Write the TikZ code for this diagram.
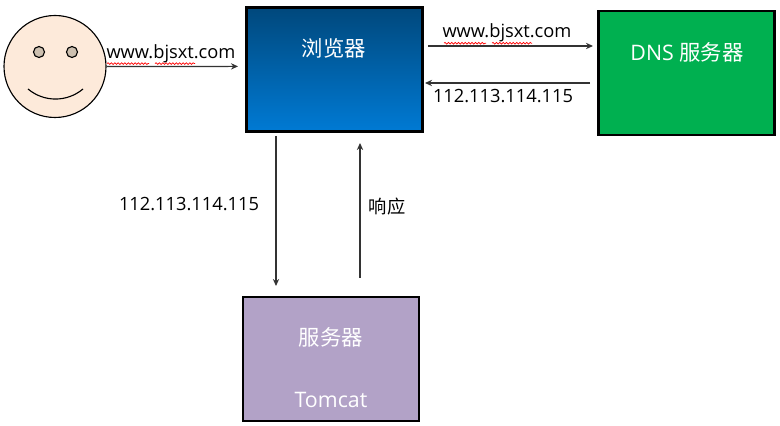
\documentclass[tikz,border=0pt]{standalone}
\usepackage{fontspec}
\setmainfont{Open Sans}
\newfontfamily\cjk{Noto Sans CJK SC}
\definecolor{skin_fill}{RGB}{253, 234, 218}
\definecolor{eye_fill}{RGB}{205, 192, 176}
\definecolor{browser_top}{RGB}{0, 72, 124}
\definecolor{browser_bot}{RGB}{0, 122, 212}
\definecolor{dns_green}{RGB}{0, 176, 80}
\definecolor{srv_purple}{RGB}{178, 162, 199}
\usetikzlibrary{arrows.meta, decorations.pathmorphing}

\begin{document}
\begin{tikzpicture}[
      box/.style={draw=black, line width=1.6pt, minimum width=4.4cm, minimum height=3.1cm, inner sep=0pt},
      arr/.style={-{Stealth[length=5pt,width=4.5pt]}, line width=0.85pt, black!80},
      wht/.style={font=\fontsize{15.2}{17}\selectfont, text=white, inner sep=0pt},
      lbl/.style={font=\fontsize{13}{15}\selectfont, text=black, inner sep=0pt},
      spell/.style={red, line width=0.5pt, decorate,
                    decoration={snake, amplitude=0.6pt, segment length=2.4pt}}]
      \useasboundingbox (0,0) rectangle (19.5,10.65);
      % boxes
      \node[box, top color=browser_top, bottom color=browser_bot] (browser) at (8.3625,8.9125) {};
      \node[box, fill=dns_green]  (dns)    at (17.1625,8.825) {};
      \node[box, fill=srv_purple] (tomcat) at (8.275,1.675) {};
      % face
      \node[draw, circle, fill=skin_fill, minimum size=2.55cm, inner sep=0pt, line width=0.8pt] (face) at (1.375,8.9875) {};
      \node[draw, circle, fill=eye_fill, minimum size=0.275cm, inner sep=0pt, line width=0.8pt] (eyeL) at (0.975,9.35) {};
      \node[draw, circle, fill=eye_fill, minimum size=0.275cm, inner sep=0pt, line width=0.8pt] (eyeR) at (1.8,9.35) {};
      \coordinate (smileL) at (0.7,8.425);
      \coordinate (smileR) at (2.075,8.425);
      \draw[line width=0.8pt] (smileL) .. controls (1.1,8.09) and (1.675,8.09) .. (smileR);
      % arrow ends
      \coordinate (faceEnd) at (5.95,8.99);
      \coordinate (reqA) at (10.7,9.5);
      \coordinate (reqB) at (14.825,9.5);
      \coordinate (ansA) at (14.75,8.575);
      \coordinate (ansB) at (10.625,8.575);
      \coordinate (downA) at (6.9,7.25);
      \coordinate (downB) at (6.9,3.5);
      \coordinate (upA) at (9.0,3.7);
      \coordinate (upB) at (9.0,7.075);
      \draw[arr] (face.east) -- (faceEnd);
      \draw[arr] (reqA) -- (reqB);
      \draw[arr] (ansA) -- (ansB);
      \draw[arr] (downA) -- (downB);
      \draw[arr] (upA) -- (upB);
      % spelling marks
      \coordinate (sqA) at (2.675,9.06);
      \coordinate (sqB) at (3.725,9.06);
      \coordinate (sqC) at (3.875,9.06);
      \coordinate (sqD) at (4.875,9.06);
      \coordinate (sqE) at (11.1,9.57);
      \coordinate (sqF) at (12.15,9.57);
      \coordinate (sqG) at (12.3,9.57);
      \coordinate (sqH) at (13.3,9.57);
      \draw[spell] (sqA) -- (sqB);
      \draw[spell] (sqC) -- (sqD);
      \draw[spell] (sqE) -- (sqF);
      \draw[spell] (sqG) -- (sqH);
      % texts
      \node[wht] (browserT) at (8.35,9.45) {\cjk 浏览器};
      \node[wht] (dnsT) at (17.175,9.35) {DNS {\cjk 服务器}};
      \node[wht] (srvT) at (8.275,2.225) {\cjk 服务器};
      \node[wht] (tomT) at (8.275,0.65) {Tomcat};
      \node[lbl] (urlA) at (4.275,9.3) {www.bjsxt.com};
      \node[lbl] (urlB) at (12.675,9.825) {www.bjsxt.com};
      \node[lbl] (ipA) at (12.575,8.25) {112.113.114.115};
      \node[lbl] (ipB) at (4.725,5.55) {112.113.114.115};
      \node[lbl] (resp) at (9.675,5.475) {\cjk 响应};
    \end{tikzpicture}
\end{document}
